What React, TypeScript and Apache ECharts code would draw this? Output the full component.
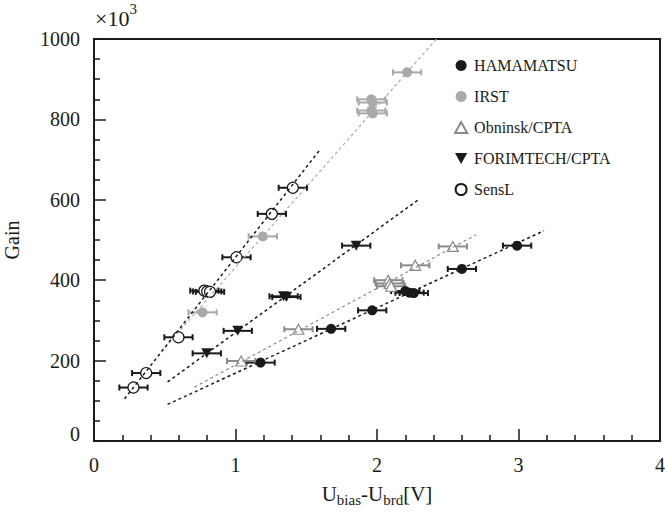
import React, { useEffect, useRef } from "react";
import * as echarts from "echarts";

// ---- data ----
const hamaX = [1.177, 1.676, 1.966, 2.2, 2.23, 2.26, 2.6, 2.99];
const hamaY = [195, 279, 325, 373, 369, 368, 428, 486];
const hamaErr = [0.1, 0.1, 0.1, 0.1, 0.1, 0.1, 0.1, 0.1];

const irstX = [0.767, 1.193, 1.96, 1.97, 1.96, 1.97, 2.213];
const irstY = [320, 509, 850, 842, 822, 815, 917];
const irstErr = [0.1, 0.1, 0.1, 0.1, 0.1, 0.1, 0.1];

const obnX = [1.04, 1.445, 2.08, 2.09, 2.1, 2.27, 2.536];
const obnY = [199, 278, 400, 392, 385, 437, 484];
const obnErr = [0.1, 0.1, 0.1, 0.1, 0.1, 0.1, 0.1];

const forX = [0.797, 1.016, 1.34, 1.36, 1.853];
const forY = [218, 274, 360, 358, 486];
const forErr = [0.1, 0.1, 0.1, 0.1, 0.1];

const sensX = [0.279, 0.369, 0.597, 0.78, 0.8, 0.82, 1.007, 1.257, 1.405];
const sensY = [133, 169, 258, 374, 372, 371, 457, 565, 630];
const sensErr = [0.1, 0.1, 0.1, 0.1, 0.1, 0.1, 0.1, 0.1, 0.1];

// fit lines: [start, end]
const hamaFit = [[0.52, 91], [3.18, 523]];
const irstFit = [[0.5, 232], [2.42, 1000]];
const obnFit = [[0.71, 134], [2.7, 513]];
const forFit = [[0.52, 147], [2.295, 601]];
const sensFit = [[0.216, 105], [1.598, 725]];

const seriesNames = ["HAMAMATSU", "IRST", "Obninsk/CPTA", "FORIMTECH/CPTA", "SensL"];

const FONT = "'Liberation Serif', 'Times New Roman', serif";
const BLACK = "#1a1a1a";
const LGRAY = "#a9a9a9";
const MGRAY = "#8a8a8a";

const DOWN_TRI = "path://M0,0L10,0L5,9Z";
const UP_TRI = "path://M5,0L10,9L0,9Z";

function errSeries(name: string, xs: number[], ys: number[], es: number[], color: string) {
  return {
    type: "custom",
    name: name + " err",
    data: xs.map((x, i) => [x, ys[i], es[i]]),
    encode: { x: 0, y: 1 },
    z: 2,
    silent: true,
    renderItem: (_p: any, api: any) => {
      const x = api.value(0);
      const y = api.value(1);
      const e = api.value(2);
      const l = api.coord([x - e, y]);
      const r = api.coord([x + e, y]);
      const cap = 3;
      const style = { stroke: color, lineWidth: 2 };
      return {
        type: "group",
        children: [
          { type: "line", shape: { x1: l[0], y1: l[1], x2: r[0], y2: r[1] }, style },
          { type: "line", shape: { x1: l[0], y1: l[1] - cap, x2: l[0], y2: l[1] + cap }, style },
          { type: "line", shape: { x1: r[0], y1: r[1] - cap, x2: r[0], y2: r[1] + cap }, style },
        ],
      };
    },
  };
}

function fitSeries(name: string, pts: number[][], color: string, width: number) {
  return {
    type: "line",
    name: name + " fit",
    data: pts,
    symbol: "none",
    z: 4,
    silent: true,
    lineStyle: { color, width, type: [3, 3] },
  };
}

export default function App() {
  const ref = useRef<HTMLDivElement>(null);
  useEffect(() => {
    if (!ref.current) return;
    const chart = echarts.init(ref.current, null, { renderer: "svg" });
    const zip = (xs: number[], ys: number[]) => xs.map((x, i) => [x, ys[i]]);
    chart.setOption({
      animation: false,
      backgroundColor: "#fff",
      textStyle: { fontFamily: FONT },
      grid: {
        left: 94,
        right: 5,
        top: 39,
        bottom: 72,
        containLabel: false,
        outerBoundsMode: "none",
        show: true,
        borderColor: BLACK,
        borderWidth: 2,
      },
      legend: {
        orient: "vertical",
        left: 449,
        top: 52,
        itemWidth: 16,
        itemHeight: 11,
        itemGap: 14,
        symbolKeepAspect: true,
        textStyle: { fontFamily: FONT, fontSize: 16, color: BLACK, lineHeight: 17 },
        data: [
          { name: "HAMAMATSU", icon: "circle" },
          { name: "IRST", icon: "circle" },
          { name: "Obninsk/CPTA", icon: UP_TRI },
          { name: "FORIMTECH/CPTA", icon: DOWN_TRI },
          { name: "SensL", icon: "circle" },
        ],
      },
      graphic: [
        {
          type: "text",
          left: 95,
          top: 1,
          style: {
            text: "{b|×10}{sup|3}",
            fill: BLACK,
            rich: {
              b: { fontSize: 22, fontFamily: FONT, verticalAlign: "bottom", lineHeight: 28, fill: BLACK },
              sup: { fontSize: 15, fontFamily: FONT, verticalAlign: "top", lineHeight: 28, fill: BLACK },
            },
          },
        },
      ],
      xAxis: {
        type: "value",
        min: 0,
        max: 4,
        interval: 1,
        name: "U{sub|bias}-U{sub|brd}[V]",
        nameLocation: "middle",
        nameGap: 40,
        nameTextStyle: {
          fontFamily: FONT,
          fontSize: 21,
          color: BLACK,
          lineHeight: 28,
          verticalAlign: "middle",
          rich: {
            sub: { fontFamily: FONT, fontSize: 15, color: BLACK, verticalAlign: "bottom", lineHeight: 28 },
          },
        },
        axisLine: { lineStyle: { color: BLACK, width: 2 } },
        axisTick: { inside: true, length: 12, lineStyle: { color: BLACK, width: 1.5 } },
        minorTick: { show: true, splitNumber: 5, length: 6, lineStyle: { color: BLACK, width: 1.5 } },
        axisLabel: { fontFamily: FONT, fontSize: 20, color: BLACK, margin: 14 },
        splitLine: { show: false },
      },
      yAxis: {
        type: "value",
        min: 0,
        max: 1000,
        interval: 200,
        name: "Gain",
        nameLocation: "middle",
        nameGap: 72,
        nameTextStyle: { fontFamily: FONT, fontSize: 20, color: BLACK },
        axisLine: { lineStyle: { color: BLACK, width: 2 } },
        axisTick: { inside: true, length: 12, lineStyle: { color: BLACK, width: 1.5 } },
        minorTick: { show: true, splitNumber: 4, length: 6, lineStyle: { color: BLACK, width: 1.5 } },
        axisLabel: {
          fontFamily: FONT,
          fontSize: 20,
          color: BLACK,
          margin: 14,
          formatter: (v: number) => (v === 0 ? "{z|0}" : String(v)),
          rich: { z: { fontFamily: FONT, fontSize: 20, color: BLACK, padding: [0, 0, 14, 0] } },
        },
        splitLine: { show: false },
      },
      series: [
        fitSeries("HAMAMATSU", hamaFit, BLACK, 1.5),
        fitSeries("IRST", irstFit, LGRAY, 1.2),
        fitSeries("Obninsk/CPTA", obnFit, MGRAY, 1.2),
        fitSeries("FORIMTECH/CPTA", forFit, BLACK, 1.5),
        fitSeries("SensL", sensFit, BLACK, 1.5),
        errSeries("HAMAMATSU", hamaX, hamaY, hamaErr, BLACK),
        errSeries("IRST", irstX, irstY, irstErr, LGRAY),
        errSeries("Obninsk/CPTA", obnX, obnY, obnErr, MGRAY),
        errSeries("FORIMTECH/CPTA", forX, forY, forErr, BLACK),
        errSeries("SensL", sensX, sensY, sensErr, BLACK),
        {
          type: "scatter",
          name: seriesNames[0],
          data: zip(hamaX, hamaY),
          symbol: "circle",
          symbolSize: 10,
          z: 3,
          itemStyle: { color: BLACK, opacity: 1 },
        },
        {
          type: "scatter",
          name: seriesNames[1],
          data: zip(irstX, irstY),
          symbol: "circle",
          symbolSize: 10,
          z: 3,
          itemStyle: { color: LGRAY, opacity: 1 },
        },
        {
          type: "scatter",
          name: seriesNames[2],
          data: zip(obnX, obnY),
          symbol: UP_TRI,
          symbolSize: [11, 10],
          z: 3,
          itemStyle: { color: "#fff", borderColor: MGRAY, borderWidth: 1.2, opacity: 1 },
        },
        {
          type: "scatter",
          name: seriesNames[3],
          data: zip(forX, forY),
          symbol: DOWN_TRI,
          symbolSize: [11, 10],
          z: 3,
          itemStyle: { color: BLACK, opacity: 1 },
        },
        {
          type: "scatter",
          name: seriesNames[4],
          data: zip(sensX, sensY),
          symbol: "circle",
          symbolSize: 11,
          z: 3,
          itemStyle: { color: "#fff", borderColor: BLACK, borderWidth: 1.2, opacity: 1 },
        },
      ],
    });
    return () => chart.dispose();
  }, []);
  return (
    <div
      ref={ref}
      style={{ position: "fixed", left: 0, top: 0, width: 665, height: 513, background: "#fff" }}
    />
  );
}
